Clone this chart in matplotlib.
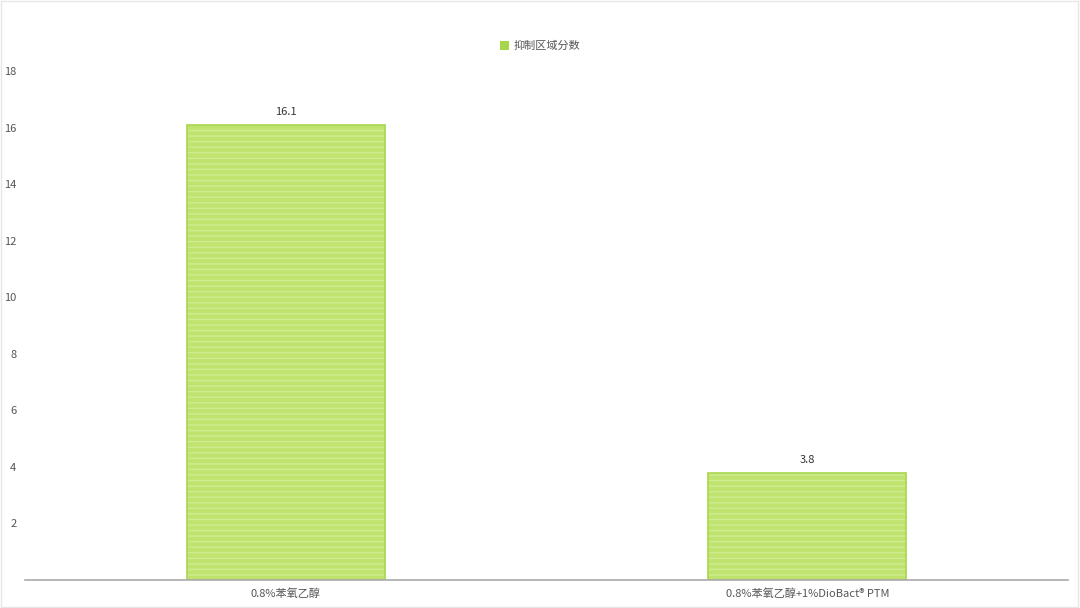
import matplotlib.pyplot as plt

plt.rcParams["font.family"] = ["Noto Sans CJK SC", "DejaVu Sans"]
plt.rcParams["hatch.linewidth"] = 1.0

categories = ["0.8%苯氧乙醇", "0.8%苯氧乙醇+1%DioBact® PTM"]
values = [16.1, 3.8]
series_name = "抑制区域分数"
yticks = [2, 4, 6, 8, 10, 12, 14, 16, 18]

fig = plt.figure(figsize=(10.8, 6.08), dpi=100)
ax = fig.add_axes([0.023, 0.046, 0.966, 0.837])

x = range(len(categories))
# striped fill
ax.bar(x, values, width=0.38, color="#c0e370", edgecolor="#d0eb92",
       hatch="---", linewidth=0, label=series_name)
# outline
ax.bar(x, values, width=0.38, fill=False, edgecolor="#a8d74e", linewidth=1.2)

for xi, v in zip(x, values):
    ax.text(xi, v + 0.28, f"{v}", ha="center", va="bottom", fontsize=8, color="#333333")

ax.set_xlim(-0.5, 1.5)
ax.set_ylim(0, 18)
ax.set_xticks(list(x))
ax.set_xticklabels(categories, fontsize=8, color="#555555")
ax.set_yticks(yticks)
ax.set_yticklabels([str(t) for t in yticks], fontsize=8, color="#555555")
ax.tick_params(axis="both", length=0)
ax.tick_params(axis="y", pad=6)
ax.tick_params(axis="x", pad=6)

for s in ["top", "right", "left"]:
    ax.spines[s].set_visible(False)
ax.spines["bottom"].set_color("#aaaaaa")
ax.spines["bottom"].set_linewidth(1.2)

h, l = ax.get_legend_handles_labels()
leg = fig.legend(h[:1], l[:1], loc="center", bbox_to_anchor=(0.5, 0.924),
                 frameon=False, fontsize=8, handlelength=0.8, handleheight=0.8,
                 handletextpad=0.4, labelcolor="#555555")
for p in leg.get_patches():
    p.set_hatch(None)
    p.set_facecolor("#a6d64c")

fig.patches.append(plt.Rectangle((0.001, 0.002), 0.997, 0.996, transform=fig.transFigure,
                                 fill=False, edgecolor="#e6e6e6", linewidth=1))

fig.savefig("out.png", dpi=100)
